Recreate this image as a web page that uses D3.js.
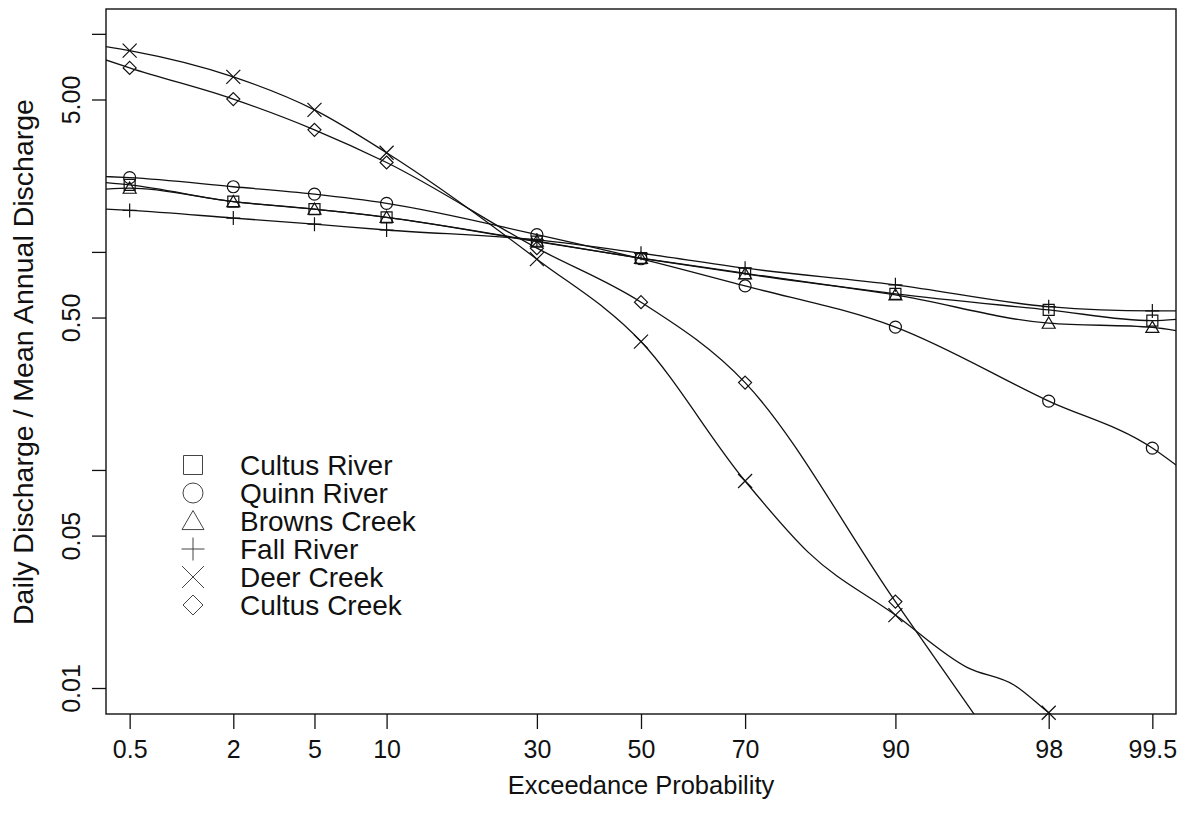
<!DOCTYPE html>
<html>
<head>
<meta charset="utf-8">
<script src="https://cdn.jsdelivr.net/npm/d3@7"></script>
<style>
  html, body { margin: 0; padding: 0; background: #fff; }
  text { font-family: "Liberation Sans", Arial, sans-serif; fill: #111; }
</style>
</head>
<body>
<div id="chart"></div>
<script>
// exceedance probabilities (%) where the points sit, and the x tick labels
const probTicks = [0.5, 2, 5, 10, 30, 50, 70, 90, 98, 99.5];
const probLabels = ["0.5", "2", "5", "10", "30", "50", "70", "90", "98", "99.5"];

// y ticks (log scale) and their labels, only every other tick is labelled
const yTickValues = [10, 5, 1, 0.5, 0.1, 0.05, 0.01];
const yTickLabels = ["", "5.00", "", "0.50", "", "0.05", "0.01"];

const seriesNames = ["Cultus River", "Quinn River", "Browns Creek", "Fall River", "Deer Creek", "Cultus Creek"];
const seriesSymbols = ["square", "circle", "triangle", "plus", "times", "diamond"];

// daily discharge / mean annual discharge at each probability
const cultusRiver = [2.03, 1.70, 1.57, 1.44, 1.115, 0.936, 0.798, 0.642, 0.542, 0.484];
const quinnRiver  = [2.19, 1.99, 1.84, 1.67, 1.20, 0.93, 0.698, 0.452, 0.207, 0.126];
const brownsCreek = [1.96, 1.70, 1.57, 1.44, 1.12, 0.934, 0.793, 0.635, 0.471, 0.451];
const fallRiver   = [1.55, 1.43, 1.34, 1.26, 1.135, 0.986, 0.842, 0.706, 0.561, 0.536];
const deerCreek   = [8.38, 6.35, 4.48, 2.85, 0.926, 0.388, 0.089, 0.0216, 0.0077, null];
const cultusCreek = [6.98, 5.02, 3.63, 2.57, 1.04, 0.588, 0.2515, 0.0249, null, null];

// fitted curves: values read at the plot edges, plus a few extra knots
const edgeProbs = [0.35, 99.65];
const fitLeft  = [2.08, 2.215, 1.94, 1.57, 8.75, 7.60];
const fitRight = [0.491, 0.105, 0.4355, 0.536, null, null];
const deerExtraProbs = [80, 95, 97, 99];
const deerExtraVals  = [0.042, 0.0124, 0.0103, 0.005];
const cultusCreekExtraProbs = [96];
const cultusCreekExtraVals  = [0.0061];

const seriesValues = [cultusRiver, quinnRiver, brownsCreek, fallRiver, deerCreek, cultusCreek];
const extraProbs = [[], [], [], [], deerExtraProbs, cultusCreekExtraProbs];
const extraVals  = [[], [], [], [], deerExtraVals, cultusCreekExtraVals];

const width = 1191, height = 824;
const plot = {left: 106, right: 1176, top: 9, bottom: 714};

// inverse standard normal CDF (Acklam) for the probability axis
function qnorm(p) {
    const a = [-3.969683028665376e+01, 2.209460984245205e+02, -2.759285104469687e+02, 1.383577518672690e+02, -3.066479806614716e+01, 2.506628277459239e+00];
    const b = [-5.447609879822406e+01, 1.615858368580409e+02, -1.556989798598866e+02, 6.680131188771972e+01, -1.328068155288572e+01];
    const c = [-7.784894002430293e-03, -3.223964580411365e-01, -2.400758277161838e+00, -2.549732539343734e+00, 4.374664141464968e+00, 2.938163982698783e+00];
    const d = [7.784695709041462e-03, 3.224671290700398e-01, 2.445134137142996e+00, 3.754408661907416e+00];
    const plow = 0.02425;
    let q, r;
    if (p < plow) {
        q = Math.sqrt(-2 * Math.log(p));
        return (((((c[0]*q+c[1])*q+c[2])*q+c[3])*q+c[4])*q+c[5]) / ((((d[0]*q+d[1])*q+d[2])*q+d[3])*q+1);
    }
    if (p > 1 - plow) {
        q = Math.sqrt(-2 * Math.log(1 - p));
        return -(((((c[0]*q+c[1])*q+c[2])*q+c[3])*q+c[4])*q+c[5]) / ((((d[0]*q+d[1])*q+d[2])*q+d[3])*q+1);
    }
    q = p - 0.5; r = q * q;
    return (((((a[0]*r+a[1])*r+a[2])*r+a[3])*r+a[4])*r+a[5])*q / (((((b[0]*r+b[1])*r+b[2])*r+b[3])*r+b[4])*r+1);
}

const z = d3.scaleLinear().domain([-2.695, 2.695]).range([plot.left, plot.right]);
const x = p => z(qnorm(p / 100));
const y = d3.scaleLog().domain([0.0076, 13.0]).range([plot.bottom, plot.top]);

// open plotting symbols, r = half size
function symbolPath(type, r) {
    const p = d3.path();
    if (type === "square") {
        p.rect(-r, -r, 2 * r, 2 * r);
    } else if (type === "circle") {
        p.moveTo(r, 0); p.arc(0, 0, r, 0, 2 * Math.PI);
    } else if (type === "triangle") {
        const h = r * 1.732;
        p.moveTo(0, -h * 0.55); p.lineTo(r, h * 0.45); p.lineTo(-r, h * 0.45); p.closePath();
    } else if (type === "plus") {
        p.moveTo(-r, 0); p.lineTo(r, 0); p.moveTo(0, -r); p.lineTo(0, r);
    } else if (type === "times") {
        p.moveTo(-r, -r); p.lineTo(r, r); p.moveTo(-r, r); p.lineTo(r, -r);
    } else if (type === "diamond") {
        p.moveTo(0, -r); p.lineTo(r, 0); p.lineTo(0, r); p.lineTo(-r, 0); p.closePath();
    }
    return p.toString();
}
const markerSize = {square: 5.5, circle: 6, triangle: 6.5, plus: 7, times: 7, diamond: 6.5};
const legendSize = {square: 9.5, circle: 10, triangle: 11, plus: 11.5, times: 11, diamond: 10};

const svg = d3.select("#chart").append("svg")
    .attr("width", width)
    .attr("height", height);

svg.append("clipPath").attr("id", "plotclip")
    .append("rect")
    .attr("x", plot.left).attr("y", plot.top)
    .attr("width", plot.right - plot.left).attr("height", plot.bottom - plot.top);

// fitted curves
const line = d3.line()
    .x(d => x(d.p))
    .y(d => y(d.v))
    .curve(d3.curveMonotoneX);

seriesNames.forEach((name, i) => {
    const knots = [{p: edgeProbs[0], v: fitLeft[i]}];
    probTicks.forEach((p, j) => {
        if (seriesValues[i][j] != null) knots.push({p: p, v: seriesValues[i][j]});
    });
    extraProbs[i].forEach((p, j) => knots.push({p: p, v: extraVals[i][j]}));
    if (fitRight[i] != null) knots.push({p: edgeProbs[1], v: fitRight[i]});
    knots.sort((a, b) => a.p - b.p);

    svg.append("path")
        .datum(knots)
        .attr("clip-path", "url(#plotclip)")
        .attr("fill", "none")
        .attr("stroke", "#111")
        .attr("stroke-width", 1.3)
        .attr("d", line);
});

// points
seriesNames.forEach((name, i) => {
    const pts = probTicks.map((p, j) => ({p: p, v: seriesValues[i][j]})).filter(d => d.v != null);
    svg.append("g")
        .selectAll("path")
        .data(pts)
        .join("path")
        .attr("transform", d => `translate(${x(d.p)},${y(d.v)})`)
        .attr("d", symbolPath(seriesSymbols[i], markerSize[seriesSymbols[i]]))
        .attr("fill", "none")
        .attr("stroke", "#111")
        .attr("stroke-width", 1.2);
});

// frame
svg.append("rect")
    .attr("x", plot.left).attr("y", plot.top)
    .attr("width", plot.right - plot.left).attr("height", plot.bottom - plot.top)
    .attr("fill", "none")
    .attr("stroke", "#111")
    .attr("stroke-width", 1.4);

// x axis
const xAxis = svg.append("g")
    .attr("transform", `translate(0,${plot.bottom})`)
    .call(d3.axisBottom(z)
        .tickValues(probTicks.map(p => qnorm(p / 100)))
        .tickFormat((d, i) => probLabels[i])
        .tickSize(15)
        .tickSizeOuter(0)
        .tickPadding(11));
xAxis.select(".domain").remove();
xAxis.selectAll(".tick line").attr("stroke", "#111").attr("stroke-width", 1.3);
xAxis.selectAll(".tick text")
    .attr("font-size", 25)
    .attr("fill", "#111")
    .style("font-family", "'Liberation Sans', Arial, sans-serif");

// y axis
const yAxis = svg.append("g")
    .attr("transform", `translate(${plot.left},0)`)
    .call(d3.axisLeft(y)
        .tickValues(yTickValues)
        .tickFormat((d, i) => yTickLabels[i])
        .tickSize(14)
        .tickSizeOuter(0));
yAxis.select(".domain").remove();
yAxis.selectAll(".tick line").attr("stroke", "#111").attr("stroke-width", 1.3);
yAxis.selectAll(".tick text")
    .attr("font-size", 25)
    .attr("fill", "#111")
    .style("font-family", "'Liberation Sans', Arial, sans-serif")
    .attr("text-anchor", "middle")
    .attr("transform", "rotate(-90)")
    .attr("x", 0)
    .attr("y", -35)
    .attr("dy", "0.35em");

// axis titles
svg.append("text")
    .attr("x", 641)
    .attr("y", 794)
    .attr("text-anchor", "middle")
    .attr("font-size", 25.5)
    .text("Exceedance Probability");

svg.append("text")
    .attr("transform", "translate(23,362) rotate(-90)")
    .attr("text-anchor", "middle")
    .attr("dy", "0.35em")
    .attr("font-size", 28.5)
    .text("Daily Discharge / Mean Annual Discharge");

// legend
const legend = svg.append("g").attr("transform", "translate(193,465)");
const rows = legend.selectAll("g")
    .data(seriesNames)
    .join("g")
    .attr("transform", (d, i) => `translate(0,${i * 28})`);
rows.append("path")
    .attr("d", (d, i) => symbolPath(seriesSymbols[i], legendSize[seriesSymbols[i]]))
    .attr("fill", "none")
    .attr("stroke", "#444")
    .attr("stroke-width", 1);
rows.append("text")
    .attr("x", 47)
    .attr("dy", "0.35em")
    .attr("font-size", 28)
    .text(d => d);
</script>
</body>
</html>
